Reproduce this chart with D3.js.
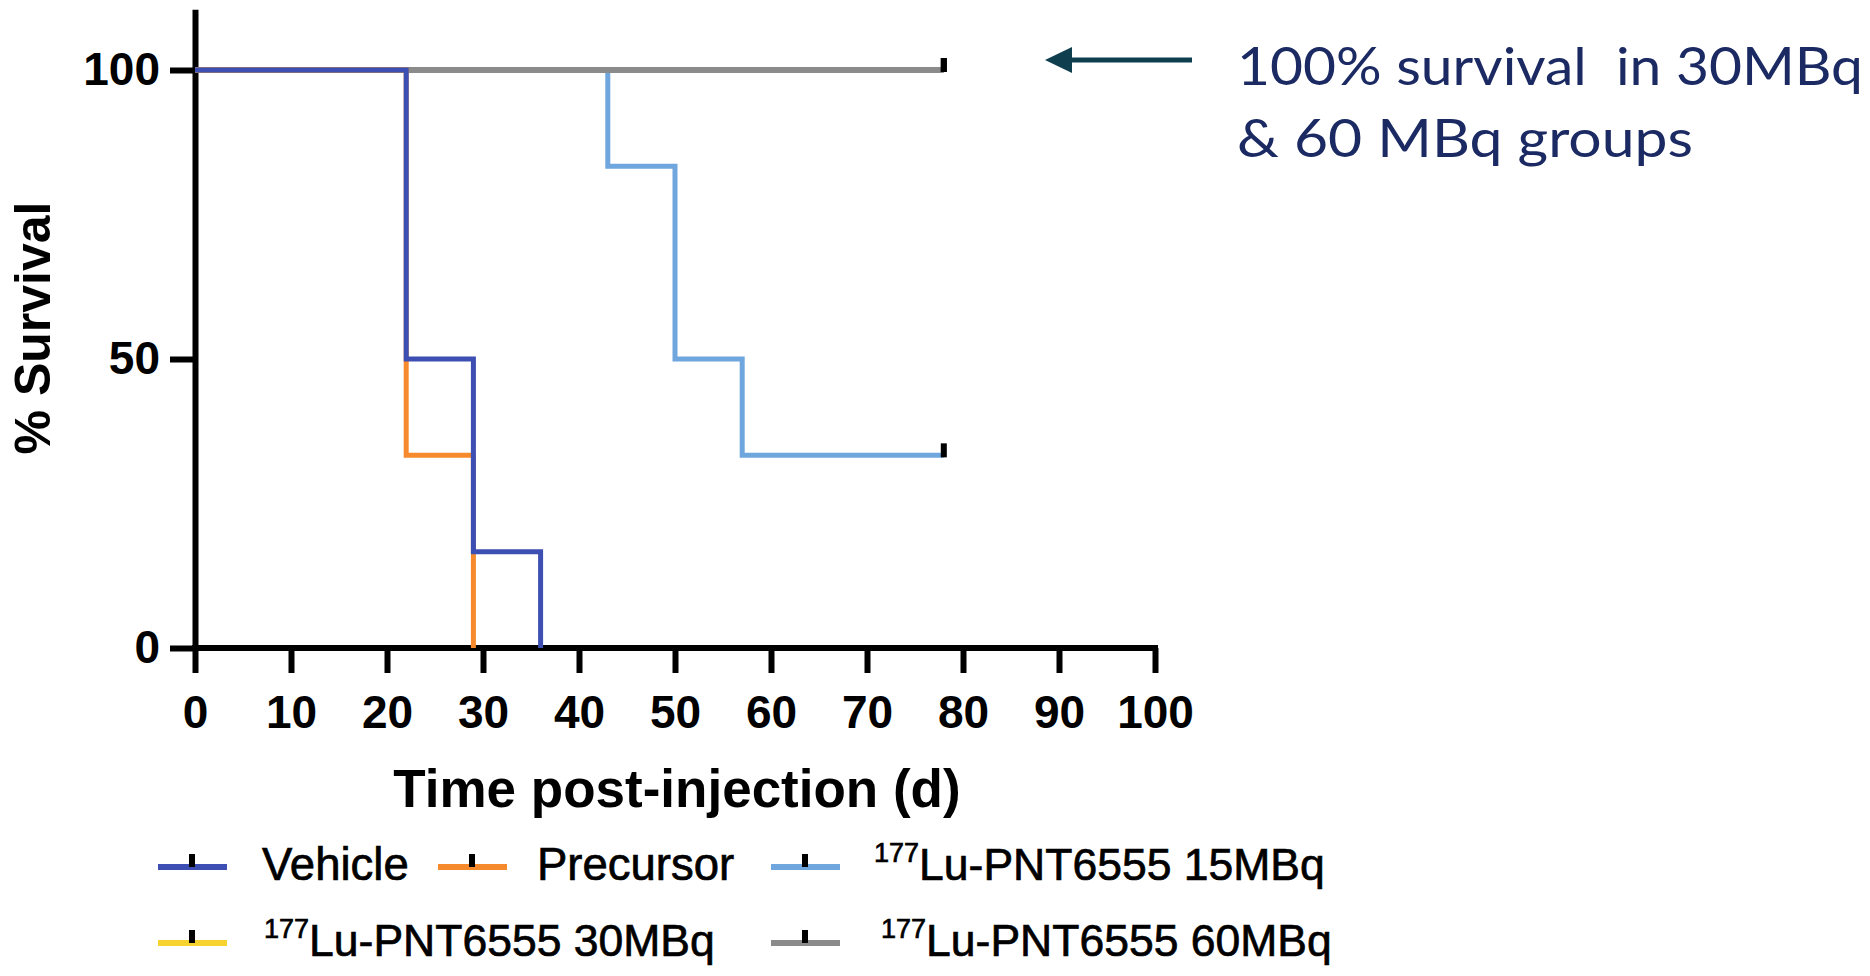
<!DOCTYPE html>
<html>
<head>
<meta charset="utf-8">
<script src="https://cdn.jsdelivr.net/npm/d3@7"></script>
<style>
  html, body { margin: 0; padding: 0; background: #ffffff; }
  svg { display: block; }
  .tick text { font-family: "Liberation Sans", Arial, sans-serif; font-weight: bold; }
</style>
</head>
<body>
<script>
// ---------------- data ----------------
const seriesNames = ["Vehicle", "Precursor", "177Lu-PNT6555 15MBq", "177Lu-PNT6555 30MBq", "177Lu-PNT6555 60MBq"];
const seriesColors = ["#3d4fb3", "#f68a2c", "#6ea6dd", "#f6d32f", "#8b8b8b"];
// Kaplan-Meier steps: [day, % survival]
const vehicleSteps   = [[0, 100], [22, 50], [29, 16.67], [36, 0]];
const precursorSteps = [[0, 100], [22, 33.33], [29, 0]];
const lu15Steps      = [[0, 100], [43, 83.33], [50, 50], [57, 33.33], [78, 33.33]];
const lu30Steps      = [[0, 100], [78, 100]];
const lu60Steps      = [[0, 100], [78, 100]];
// censored observations at end of follow-up: [day, % survival]
const lu15Censor = [[78, 33.33]];
const lu30Censor = [[78, 100]];
const lu60Censor = [[78, 100]];
const xTicks = [0, 10, 20, 30, 40, 50, 60, 70, 80, 90, 100];
const yTicks = [0, 50, 100];
const xTitle = "Time post-injection (d)";
const yTitle = "% Survival";
const annotationLines = ["100% survival  in 30MBq", "& 60 MBq groups"];

// ---------------- layout ----------------
const W = 1870, H = 976;
const svg = d3.select("body").append("svg").attr("width", W).attr("height", H);

const x = d3.scaleLinear().domain([0, 100]).range([195, 1155]);
const y = d3.scaleLinear().domain([0, 110.5]).range([648, 648 - 110.5 * 5.78]);

// axes
const xAxis = d3.axisBottom(x).tickValues(xTicks).tickSize(25).tickSizeOuter(0).tickPadding(22);
const yAxis = d3.axisLeft(y).tickValues(yTicks).tickSize(25).tickSizeOuter(0).tickPadding(10);

const gx = svg.append("g").attr("transform", `translate(0,${y(0)})`).call(xAxis);
const gy = svg.append("g").attr("transform", `translate(${x(0)},0)`).call(yAxis);
[gx, gy].forEach(g => {
  g.select(".domain").attr("stroke", "#000").attr("stroke-width", 6);
  g.selectAll(".tick line").attr("stroke", "#000").attr("stroke-width", 6);
  g.selectAll(".tick text").attr("fill", "#000").attr("font-size", 46);
});
gx.select(".domain").attr("d", `M${x(0) - 3},0H${x(100) + 3}`);

// titles
svg.append("text")
  .attr("x", (x(0) + x(100)) / 2 + 2).attr("y", 807)
  .attr("text-anchor", "middle")
  .attr("font-family", "Liberation Sans, Arial, sans-serif")
  .attr("font-weight", "bold").attr("font-size", 53)
  .text(xTitle);

svg.append("text")
  .attr("transform", `translate(50,328) rotate(-90)`)
  .attr("text-anchor", "middle")
  .attr("font-family", "Liberation Sans, Arial, sans-serif")
  .attr("font-weight", "bold").attr("font-size", 50)
  .text(yTitle);

// curves
const line = d3.line().x(d => x(d[0])).y(d => y(d[1])).curve(d3.curveStepAfter);
const drawOrder = [
  { steps: lu30Steps, color: seriesColors[3], censor: lu30Censor, w: 4 },
  { steps: lu15Steps, color: seriesColors[2], censor: lu15Censor, w: 5 },
  { steps: lu60Steps, color: seriesColors[4], censor: lu60Censor, w: 6 },
  { steps: precursorSteps, color: seriesColors[1], censor: [], w: 5 },
  { steps: vehicleSteps, color: seriesColors[0], censor: [], w: 5 }
];
drawOrder.forEach(s => {
  svg.append("path")
    .attr("d", line(s.steps))
    .attr("fill", "none")
    .attr("stroke", s.color)
    .attr("stroke-width", s.w)
    .attr("stroke-linejoin", "miter")
    .attr("stroke-linecap", "butt");
});
drawOrder.forEach(s => {
  svg.selectAll(null).data(s.censor).enter().append("rect")
    .attr("x", d => x(d[0]) - 3)
    .attr("y", d => y(d[1]) - 12)
    .attr("width", 6).attr("height", 14)
    .attr("fill", "#000");
});

// legend
const legendItems = [
  { name: seriesNames[0], color: seriesColors[0], lx: 158, tx: 262, ly: 867, ty: 880 },
  { name: seriesNames[1], color: seriesColors[1], lx: 438, tx: 537, ly: 867, ty: 880 },
  { name: seriesNames[2], color: seriesColors[2], lx: 771, tx: 874, ly: 867, ty: 880 },
  { name: seriesNames[3], color: seriesColors[3], lx: 158, tx: 264, ly: 943, ty: 956 },
  { name: seriesNames[4], color: seriesColors[4], lx: 771, tx: 881, ly: 943, ty: 956 }
];
const lg = svg.append("g");
legendItems.forEach(it => {
  lg.append("line")
    .attr("x1", it.lx).attr("x2", it.lx + 69)
    .attr("y1", it.ly).attr("y2", it.ly)
    .attr("stroke", it.color).attr("stroke-width", 6);
  lg.append("rect")
    .attr("x", it.lx + 34 - 3).attr("y", it.ly - 13)
    .attr("width", 6).attr("height", 13).attr("fill", "#000");
  const isIso = it.name.startsWith("177");
  const t = lg.append("text")
    .attr("x", it.tx).attr("y", it.ty)
    .attr("font-family", "Liberation Sans, Arial, sans-serif")
    .attr("font-size", isIso ? 44.5 : 45.5).attr("fill", "#000")
    .attr("stroke", "#000").attr("stroke-width", 0.7);
  if (isIso) {
    t.append("tspan").attr("font-size", 27).attr("dy", -18).text("177");
    t.append("tspan").attr("dy", 18).text(it.name.slice(3));
  } else {
    t.text(it.name);
  }
});

// annotation arrow + text
const ann = svg.append("g");
ann.append("line")
  .attr("x1", 1192).attr("x2", 1066).attr("y1", 60).attr("y2", 60)
  .attr("stroke", "#0f3f4f").attr("stroke-width", 5);
ann.append("path")
  .attr("d", "M1045,60L1072,47L1072,73Z")
  .attr("fill", "#0f3f4f");
const annWidths = [626, 456];
annotationLines.forEach((txt, i) => {
  ann.append("text")
    .attr("x", 1237).attr("y", 85 + i * 72)
    .attr("font-family", "Lato, 'Noto Sans', sans-serif")
    .attr("font-size", 52)
    .attr("fill", "#1b2a62")
    .attr("textLength", annWidths[i])
    .attr("lengthAdjust", "spacingAndGlyphs")
    .style("white-space", "pre")
    .text(txt);
});
</script>
</body>
</html>
